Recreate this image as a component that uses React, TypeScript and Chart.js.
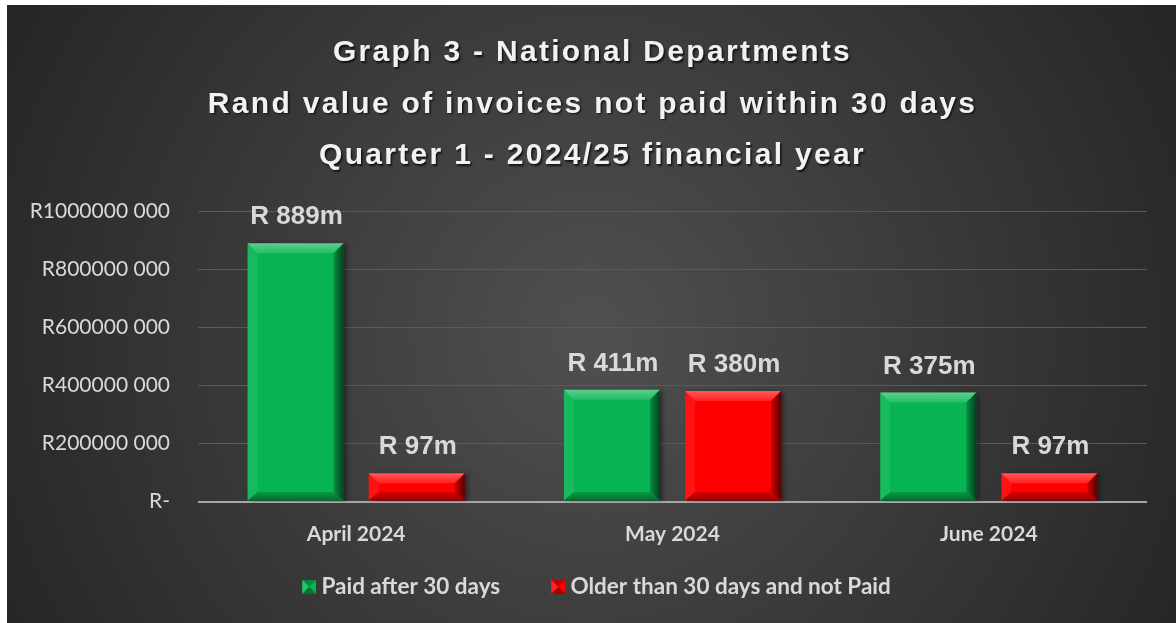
import React, { useEffect, useRef } from "react";
import { Chart, registerables } from "chart.js";

Chart.register(...registerables);

const categories = ["April 2024", "May 2024", "June 2024"];
const seriesNames = ["Paid after 30 days", "Older than 30 days and not Paid"];
const paidAfter30 = [889e6, 385e6, 375e6];
const olderNotPaid = [97e6, 380e6, 97e6];
const paidLabels = ["R 889m", "R 411m", "R 375m"];
const olderLabels = ["R 97m", "R 380m", "R 97m"];
const yTickLabels = ["R-", "R200000 000", "R400000 000", "R600000 000", "R800000 000", "R1000000 000"];
const titleLines = [
  "Graph 3 - National Departments",
  "Rand value of invoices not paid within 30 days",
  "Quarter 1 - 2024/25 financial year",
];

const seriesColors = ["#06b551", "#ff0000"];
const valueLabels = [paidLabels, olderLabels];

function poly(ctx: CanvasRenderingContext2D, pts: number[][], fill: string | CanvasGradient) {
  ctx.beginPath();
  ctx.moveTo(pts[0][0], pts[0][1]);
  for (let i = 1; i < pts.length; i++) ctx.lineTo(pts[i][0], pts[i][1]);
  ctx.closePath();
  ctx.fillStyle = fill;
  ctx.fill();
}

function drawBevel(ctx: CanvasRenderingContext2D, l: number, t: number, r: number, b: number) {
  const h = b - t;
  const w = r - l;
  const s = Math.min(10, h * 0.38, w / 4);
  const sb = s * 0.85;
  let g = ctx.createLinearGradient(0, t, 0, t + s);
  g.addColorStop(0, "rgba(255,255,255,0.35)");
  g.addColorStop(1, "rgba(255,255,255,0.12)");
  poly(ctx, [[l, t], [r, t], [r - s, t + s], [l + s, t + s]], g);
  poly(ctx, [[l, t], [l + s, t + s], [l + s, b - sb], [l, b]], "rgba(255,255,255,0.07)");
  g = ctx.createLinearGradient(r - s, 0, r, 0);
  g.addColorStop(0, "rgba(0,0,0,0.2)");
  g.addColorStop(1, "rgba(0,0,0,0.65)");
  poly(ctx, [[r, t], [r - s, t + s], [r - s, b - sb], [r, b]], g);
  g = ctx.createLinearGradient(0, b - sb, 0, b);
  g.addColorStop(0, "rgba(0,0,0,0.15)");
  g.addColorStop(1, "rgba(0,0,0,0.4)");
  poly(ctx, [[l, b], [r, b], [r - s, b - sb], [l + s, b - sb]], g);
}

// legend marker: transparent margin on the left, 14x14 bevelled square on the right
const MARKER_MARGIN = 45;
const LEGEND_PAD = 12;
function makeMarker(base: string) {
  const c = document.createElement("canvas");
  c.width = 14 + MARKER_MARGIN;
  c.height = 14;
  const x = c.getContext("2d")!;
  x.translate(MARKER_MARGIN, 0);
  x.fillStyle = base;
  x.fillRect(0, 0, 14, 14);
  poly(x, [[0, 0], [14, 0], [7, 7]], "rgba(0,0,0,0.25)");
  poly(x, [[0, 14], [14, 14], [7, 7]], "rgba(0,0,0,0.35)");
  poly(x, [[0, 0], [0, 14], [7, 7]], "rgba(255,255,255,0.15)");
  return c;
}

const decorPlugin = {
  id: "decor",
  beforeDraw(chart: any) {
    const { ctx, width, height } = chart;
    ctx.save();
    const g = ctx.createRadialGradient(585, 330, 0, 585, 330, 720);
    g.addColorStop(0, "#505050");
    g.addColorStop(1, "#222222");
    ctx.fillStyle = g;
    ctx.fillRect(0, 0, width, height);
    ctx.fillStyle = "#f2f2f2";
    ctx.font = 'bold 30px "Liberation Sans", Arial, sans-serif';
    (ctx as any).letterSpacing = "2.3px";
    ctx.textAlign = "center";
    ctx.textBaseline = "middle";
    ctx.shadowColor = "rgba(0,0,0,0.7)";
    ctx.shadowOffsetX = 1.5;
    ctx.shadowOffsetY = 1.5;
    ctx.shadowBlur = 2;
    titleLines.forEach((t, i) => ctx.fillText(t, width / 2 + 1, 48 + i * 51.5));
    ctx.restore();
  },
  beforeDatasetsDraw(chart: any) {
    const ctx = chart.ctx;
    ctx.save();
    ctx.shadowColor = "rgba(0,0,0,0.45)";
    ctx.shadowOffsetX = 3;
    ctx.shadowOffsetY = 1;
    ctx.shadowBlur = 5;
  },
  afterDatasetsDraw(chart: any) {
    const ctx = chart.ctx;
    ctx.restore();
    ctx.save();
    chart.data.datasets.forEach((_: any, di: number) => {
      const meta = chart.getDatasetMeta(di);
      meta.data.forEach((el: any, i: number) => {
        const l = el.x - el.width / 2;
        const r = el.x + el.width / 2;
        drawBevel(ctx, l, el.y, r, el.base);
        ctx.fillStyle = "#d9d9d9";
        ctx.font = 'bold 26px "Liberation Sans", Arial, sans-serif';
        ctx.textAlign = "center";
        ctx.textBaseline = "middle";
        ctx.fillText(valueLabels[di][i], el.x + 1, el.y - 26);
      });
    });
    ctx.restore();
  },
};

export default function App() {
  const ref = useRef<HTMLCanvasElement>(null);
  useEffect(() => {
    const canvas = ref.current!;
    const markers = seriesColors.map((c) => makeMarker(c));
    const chart = new Chart(canvas, {
      type: "bar",
      data: {
        labels: categories,
        datasets: [
          { label: seriesNames[0], data: paidAfter30, backgroundColor: seriesColors[0], borderWidth: 0 },
          { label: seriesNames[1], data: olderNotPaid, backgroundColor: seriesColors[1], borderWidth: 0 },
        ],
      },
      options: {
        responsive: false,
        animation: false,
        devicePixelRatio: 1,
        layout: { padding: { top: 206, right: 29, bottom: 15, left: 0 } },
        datasets: { bar: { categoryPercentage: 0.766, barPercentage: 0.793 } } as any,
        scales: {
          x: {
            grid: { display: false, drawTicks: false },
            border: { display: false },
            ticks: {
              color: "#d9d9d9",
              padding: 20,
              font: { family: "Lato, sans-serif", size: 21, weight: "bold" },
            },
            afterFit: (s: any) => {
              s.height = 62;
            },
          },
          y: {
            min: 0,
            max: 1e9,
            border: { display: false },
            grid: {
              drawTicks: false,
              color: (c: any) => (c.tick && c.tick.value === 0 ? "#a6a6a6" : "#5a5a5a"),
              lineWidth: (c: any) => (c.tick && c.tick.value === 0 ? 2 : 1),
            },
            ticks: {
              stepSize: 2e8,
              padding: 28,
              color: "#d9d9d9",
              font: { family: "Lato, sans-serif", size: 21 },
              callback: (_v: any, i: number) => yTickLabels[i],
            },
            afterFit: (s: any) => {
              s.width = 191;
            },
          },
        },
        plugins: {
          tooltip: { enabled: false },
          title: { display: false },
          legend: {
            position: "bottom",
            labels: {
              color: "#d9d9d9",
              usePointStyle: true,
              pointStyleWidth: MARKER_MARGIN + 2,
              boxHeight: 14,
              padding: LEGEND_PAD,
              font: { family: "Lato, sans-serif", size: 22.5, weight: "bold" },
              generateLabels: () =>
                seriesNames.map((n, i) => ({
                  text: n,
                  fillStyle: seriesColors[i],
                  strokeStyle: "transparent",
                  lineWidth: 0,
                  pointStyle: markers[i] as any,
                  hidden: false,
                  datasetIndex: i,
                  fontColor: "#d9d9d9",
                })),
            },
          },
        },
      },
      plugins: [decorPlugin],
    } as any);
    return () => chart.destroy();
  }, []);
  return (
    <div style={{ position: "fixed", left: 7, top: 5, width: 1169, height: 618 }}>
      <canvas ref={ref} width={1169} height={618} style={{ display: "block" }} />
    </div>
  );
}
